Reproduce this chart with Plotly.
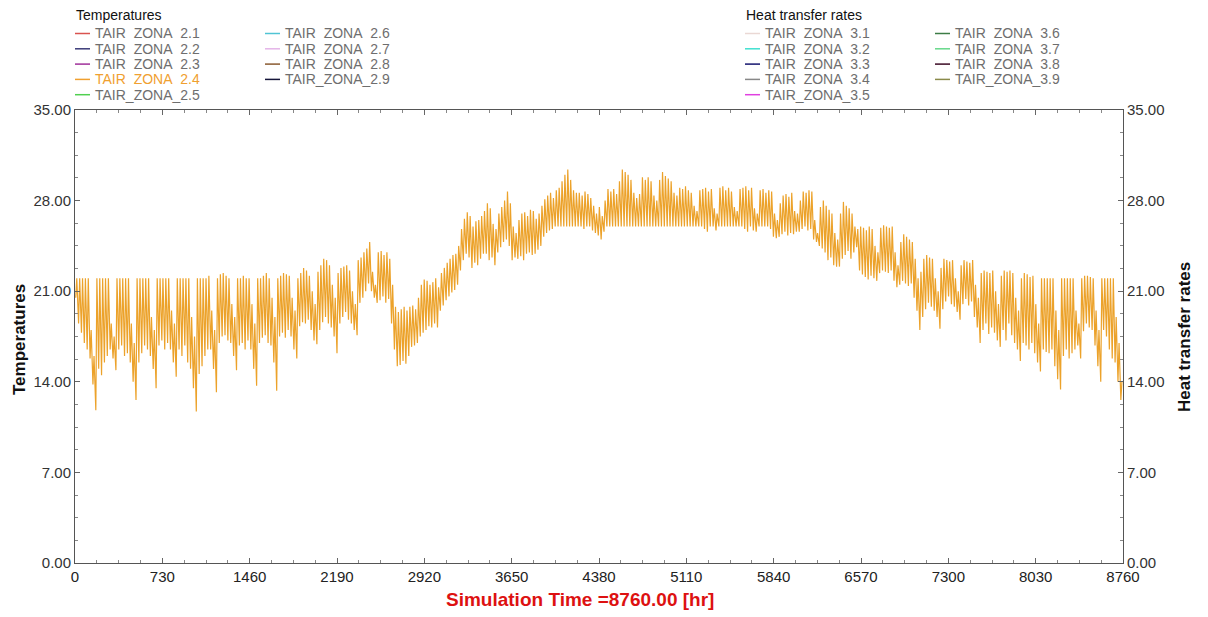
import plotly.graph_objects as go

# ---------------- data ----------------
# daily maximum and minimum of TAIR_ZONA_2.4 [°C], one week (Mon..Sun) per line
T_MAX = [
    22, 22, 22, 22, 22, 18.0, 16.0,
    22, 22, 22, 22, 22, 18.5, 17.5,
    22, 22, 22, 22, 22, 18.5, 17.0,
    22, 22, 22, 22, 22, 19.0, 18.0,
    22, 22, 22, 22, 22, 19.5, 18.5,
    22, 22, 22, 22, 22, 19.0, 17.5,
    22, 22, 22, 22, 22.2, 19.5, 18.0,
    22, 22.3, 22.4, 22.2, 22, 20.0, 19.0,
    22, 22, 22.2, 22, 22, 20.0, 18.5,
    22, 22, 22.2, 22.4, 22, 20.5, 19.0,
    22, 22.2, 22.4, 22.3, 22.2, 20.5, 19.5,
    22, 22.4, 22.8, 22.6, 22.2, 21.0, 20.0,
    22.5, 23.0, 23.5, 23.4, 23.0, 21.5, 20.5,
    22.4, 22.8, 22.9, 23.0, 22.6, 21.0, 20.0,
    23.4, 23.6, 24.0, 24.3, 24.8, 22.5, 21.5,
    24.0, 24.1, 23.8, 24.0, 23.5, 21.5, 19.8,
    19.4, 19.6, 19.8, 19.5, 19.8, 19.9, 19.6,
    20.5, 21.5, 21.9, 21.8, 21.5, 21.7, 22.0,
    21.3, 22.4, 22.8, 23.2, 23.5, 23.8, 23.9,
    24.5, 25.8, 26.6, 27.1, 26.8, 26.0, 26.4,
    26.5, 26.8, 27.2, 27.8, 27.4, 26.2, 25.8,
    27.0, 27.5, 28.0, 28.7, 27.8, 26.0, 25.5,
    26.5, 27.0, 27.1, 26.8, 27.3, 27.2, 26.6,
    27.0, 27.6, 28.1, 28.4, 28.6, 28.2, 28.8,
    29.0, 29.5, 30.0, 30.4, 29.6, 28.8, 28.6,
    28.6, 28.4, 28.7, 28.5, 28.2, 27.6, 27.0,
    27.5, 26.8, 28.0, 28.9, 28.7, 28.9, 28.5,
    29.5, 30.4, 30.2, 30.0, 29.6, 28.6, 28.2,
    28.5, 29.8, 29.6, 29.8, 29.5, 28.4, 28.0,
    29.6, 30.2, 29.9, 29.7, 29.5, 28.6, 28.4,
    29.0, 28.9, 29.1, 28.8, 28.6, 27.6, 27.2,
    28.8, 28.9, 29.0, 28.7, 28.9, 27.4, 27.0,
    29.0, 29.1, 28.8, 29.0, 28.7, 27.5, 27.2,
    28.9, 29.0, 29.1, 28.8, 29.0, 27.4, 27.0,
    28.8, 28.9, 28.6, 28.8, 28.7, 27.0, 26.5,
    27.8, 28.4, 28.5, 28.3, 28.6, 27.2, 27.0,
    28.0, 28.7, 28.6, 28.8, 28.7, 26.5, 25.5,
    27.5, 28.0, 27.6, 27.3, 27.0, 25.5, 25.0,
    27.0, 27.9, 27.6, 27.4, 27.0, 26.0, 25.8,
    26.0, 25.9, 25.7, 26.0, 25.8, 24.5, 24.0,
    25.9, 26.1, 26.0, 25.9, 26.0, 24.0, 23.0,
    24.8, 25.4, 25.2, 25.0, 24.8, 23.5, 22.0,
    22.5, 23.5, 23.8, 23.6, 23.5, 22.0, 21.0,
    22.8, 23.5, 23.4, 23.3, 23.4, 22.0, 21.0,
    23.0, 23.4, 23.3, 23.2, 23.4, 21.5, 20.5,
    22.4, 22.6, 22.5, 22.4, 22.6, 21.0, 20.0,
    22.2, 22.6, 22.5, 22.6, 22.4, 20.5, 19.5,
    22, 22.4, 22.3, 22.1, 22.2, 20.0, 18.5,
    22, 22, 22, 22, 22, 19.5, 18.0,
    22, 22, 22, 22, 22, 19.5, 18.5,
    22, 22.2, 22.2, 22.1, 22, 19.5, 18.0,
    22, 22, 22, 22, 22, 19.0, 17.0,
    14.0,
]
T_MIN = [
    20.5, 18.5, 17.8, 17.0, 16.5, 15.8, 13.8,
    11.8, 15.0, 14.5, 15.5, 16.0, 16.5, 15.8,
    14.9, 16.5, 16.8, 16.0, 16.2, 15.5, 14.0,
    12.6, 15.5, 16.2, 16.8, 16.5, 16.0, 15.0,
    13.5, 16.8, 17.2, 16.5, 17.0, 16.5, 15.5,
    14.4, 16.5, 16.0, 16.8, 15.5, 15.0, 13.5,
    11.7, 14.6, 15.2, 16.0, 16.5, 16.5, 15.0,
    13.2, 17.0, 17.5, 17.6, 17.2, 17.0, 16.0,
    14.9, 16.8, 17.0, 16.5, 17.2, 16.5, 15.0,
    13.7, 17.0, 17.4, 17.6, 17.0, 16.8, 15.5,
    13.3, 17.5, 17.8, 17.4, 18.0, 17.5, 16.5,
    15.8, 18.3, 18.6, 18.5, 18.8, 18.0, 17.2,
    16.9, 18.0, 18.6, 19.0, 18.5, 18.2, 17.5,
    16.2, 18.5, 19.0, 19.4, 18.8, 18.5, 18.0,
    17.6, 20.1, 20.5, 21.0, 21.6, 21.0, 20.5,
    20.1, 20.3, 20.6, 20.1, 20.4, 18.5, 16.5,
    15.2, 15.3, 15.6, 15.4, 16.0, 16.7, 16.8,
    17.0, 17.5, 17.8, 18.0, 18.3, 18.2, 18.5,
    18.2, 19.5, 19.9, 20.3, 20.6, 20.9, 21.1,
    21.5, 22.6, 23.4, 23.9, 23.6, 22.8, 23.2,
    23.0, 23.5, 23.9, 23.9, 23.4, 23.6, 23.0,
    24.0, 24.4, 24.8, 25.0, 24.5, 23.4, 23.6,
    23.5, 23.7, 23.4, 23.9, 24.0, 23.8, 23.9,
    24.2, 24.5, 25.2, 25.5, 25.7, 25.8, 26.0,
    26, 26, 26, 26, 26, 26, 26,
    26, 26, 25.8, 26, 26, 25.7, 25.5,
    25.3, 25.0, 25.6, 26, 26, 26, 26,
    26, 26, 26, 26, 26, 26, 26,
    26, 26, 26, 26, 26, 26, 26,
    26, 26, 26, 26, 26, 26, 26,
    26, 26, 26, 26, 26, 26, 26,
    26, 26, 25.8, 25.6, 26, 26, 25.7,
    26, 26, 26, 26, 26, 26, 26,
    26, 26, 25.8, 25.6, 26, 25.7, 25.6,
    26, 26, 26, 26, 25.8, 25.2, 25.1,
    25.2, 25.4, 25.6, 25.3, 25.5, 25.4, 25.6,
    25.6, 25.8, 26.0, 25.7, 25.8, 25.0, 24.8,
    24.5, 24.3, 24.0, 23.4, 23.6, 23.0, 22.9,
    22.9, 23.5, 23.8, 24.1, 23.5, 24.0, 24.4,
    22.6, 22.3, 22.1, 21.9, 22.2, 22.0, 21.8,
    22.4, 22.6, 22.5, 22.4, 22.6, 21.8, 21.3,
    21.5, 21.8, 21.6, 21.4, 21.6, 20.5, 19.5,
    18.0, 19.0, 19.6, 20.1, 19.8, 19.5, 19.0,
    18.1, 19.6, 20.2, 20.6, 20.0, 19.8, 19.4,
    18.8, 20.0, 20.4, 19.9, 20.2, 19.0, 18.2,
    17.0, 18.0, 18.5, 17.7, 18.2, 17.8, 17.2,
    16.7, 18.0, 17.2, 18.5, 17.6, 17.0, 16.5,
    15.6, 17.0, 16.8, 16.5, 17.0, 16.2, 15.5,
    14.8, 16.5, 16.3, 16.2, 16.5, 15.2, 14.2,
    13.4, 16.0, 16.5, 15.8, 16.2, 16.5, 16.8,
    15.8, 17.9, 18.5, 18.2, 18.0, 16.8, 15.2,
    14.0, 18.0, 17.5, 16.5, 15.8, 15.5, 14.0,
    12.6,
]
HOUR_OF_MIN = 6
HOUR_OF_MAX = 15

X_TICKS = [0, 730, 1460, 2190, 2920, 3650, 4380, 5110, 5840, 6570, 7300, 8030, 8760]
Y_TICKS = [0, 7, 14, 21, 28, 35]

LEFT_TITLE = "Temperatures"
LEFT_NAMES = ["TAIR_ZONA_2.1", "TAIR_ZONA_2.2", "TAIR_ZONA_2.3", "TAIR_ZONA_2.4", "TAIR_ZONA_2.5",
              "TAIR_ZONA_2.6", "TAIR_ZONA_2.7", "TAIR_ZONA_2.8", "TAIR_ZONA_2.9"]
LEFT_COLORS = ["#d9534f", "#3a3a78", "#a0309a", "#f0a030", "#50d050",
               "#50c4d4", "#e4b4e8", "#8a5a30", "#15153a"]
RIGHT_TITLE = "Heat transfer rates"
RIGHT_NAMES = ["TAIR_ZONA_3.1", "TAIR_ZONA_3.2", "TAIR_ZONA_3.3", "TAIR_ZONA_3.4", "TAIR_ZONA_3.5",
               "TAIR_ZONA_3.6", "TAIR_ZONA_3.7", "TAIR_ZONA_3.8", "TAIR_ZONA_3.9"]
RIGHT_COLORS = ["#ead8d4", "#40e0d0", "#15156e", "#888888", "#e040e0",
                "#3c7c46", "#66d88a", "#3c0a24", "#8a8a4a"]

# ---------------- build series ----------------
xs, ys = [], []
for d, (lo, hi) in enumerate(zip(T_MIN, T_MAX)):
    xs += [d * 24 + HOUR_OF_MIN, d * 24 + HOUR_OF_MAX]
    ys += [lo, hi]

# page is offset by the default 8px body margin
OFF = 8
W, H = 1208 - OFF, 617 - OFF
# plot area in page pixels: x 75..1123, y 110..563
PL, PR, PT, PB = 75, 1123, 110, 563
PW, PH = PR - PL, PB - PT
L, T = PL - OFF, PT - OFF
R, B = W - (PR - OFF), H - (PB - OFF)


def px(x):
    return (x - PL) / PW


def py(y):
    return (PB - y) / PH


fig = go.Figure()
fig.add_trace(go.Scatter(x=xs, y=ys, mode="lines", line=dict(color="#eca22a", width=1.2),
                         name="TAIR_ZONA_2.4", showlegend=False, hoverinfo="skip"))
# invisible helper so the right-hand axis is drawn
fig.add_trace(go.Scatter(x=[X_TICKS[0], X_TICKS[-1]], y=[Y_TICKS[0], Y_TICKS[-1]], yaxis="y2",
                         mode="markers", marker=dict(opacity=0), showlegend=False, hoverinfo="skip"))

NARROW = "Liberation Sans Narrow, Arial Narrow, Liberation Sans, Arial"
SANS = "Liberation Sans, Arial, sans-serif"

axis_common = dict(showline=True, linecolor="#555", linewidth=1, ticks="inside", ticklen=5,
                   tickcolor="#666", showgrid=False, zeroline=False)
fig.update_layout(
    width=W, height=H, margin=dict(l=L, r=R, t=T, b=B),
    paper_bgcolor="white", plot_bgcolor="white", showlegend=False,
    xaxis=dict(range=[0, 8760], tickvals=X_TICKS, ticktext=[str(v) for v in X_TICKS],
               mirror="ticks", tickfont=dict(family=NARROW, size=15, color="#222"),
               minor=dict(ticks="inside", ticklen=3, dtick=182.5, tickcolor="#888"),
               **axis_common),
    yaxis=dict(range=[0, 35], tickvals=Y_TICKS, tickformat=".2f", mirror="ticks",
               tickfont=dict(family=SANS, size=15, color="#333"),
               minor=dict(ticks="inside", ticklen=3, dtick=1.75, tickcolor="#888"),
               **axis_common),
    yaxis2=dict(range=[0, 35], tickvals=Y_TICKS, tickformat=".2f", overlaying="y", side="right",
                tickfont=dict(family=SANS, size=15, color="#333"),
                minor=dict(ticks="inside", ticklen=3, dtick=1.75, tickcolor="#888"),
                **axis_common),
)

annotations = []
shapes = []


def label(x, y, text, size=14, color="#6e6e6e", bold=False, family=SANS, angle=0, xanchor="left",
          bg="white", pad=0):
    annotations.append(dict(x=px(x), y=py(y), xref="paper", yref="paper",
                            text=f"<b>{text}</b>" if bold else text,
                            showarrow=False, xanchor=xanchor, yanchor="middle", textangle=angle,
                            font=dict(family=family, size=size, color=color), bgcolor=bg,
                            borderpad=pad))


# axis titles
label(19, 340, LEFT_TITLE, size=17, color="#111", bold=True, angle=-90, xanchor="center", bg=None)
label(1184, 337, RIGHT_TITLE, size=17, color="#111", bold=True, angle=-90, xanchor="center", bg=None)
label(580, 599, "Simulation Time =8760.00 [hr]", size=19, color="#dd1111", bold=True,
      family="Liberation Sans Narrow, Arial Narrow, Liberation Sans", xanchor="center", bg=None)

# legends (rows drawn top to bottom so each row's box covers the underscores of the row above)
ROW_Y = [33.5, 48.8, 64.1, 79.4, 94.7]
ORDER = [0, 5, 1, 6, 2, 7, 3, 8, 4]


def legend_block(x0, title, names, colors, col2_dx):
    label(x0, 15.5, title, size=14, color="#111", bg=None)
    for i in ORDER:
        col, row = divmod(i, 5)
        lx = x0 + col * col2_dx
        y = ROW_Y[row]
        shapes.append(dict(type="line", xref="paper", yref="paper", x0=px(lx), x1=px(lx + 15),
                           y0=py(y), y1=py(y), line=dict(color=colors[i], width=1.5)))
        tc = "#f0a030" if names[i] == "TAIR_ZONA_2.4" else "#6e6e6e"
        label(lx + 18, y, names[i], size=14, color=tc, pad=1)


legend_block(75, LEFT_TITLE, LEFT_NAMES, LEFT_COLORS, 190)
legend_block(745, RIGHT_TITLE, RIGHT_NAMES, RIGHT_COLORS, 190)

fig.update_layout(annotations=annotations, shapes=shapes)
fig.write_html("out.html")
